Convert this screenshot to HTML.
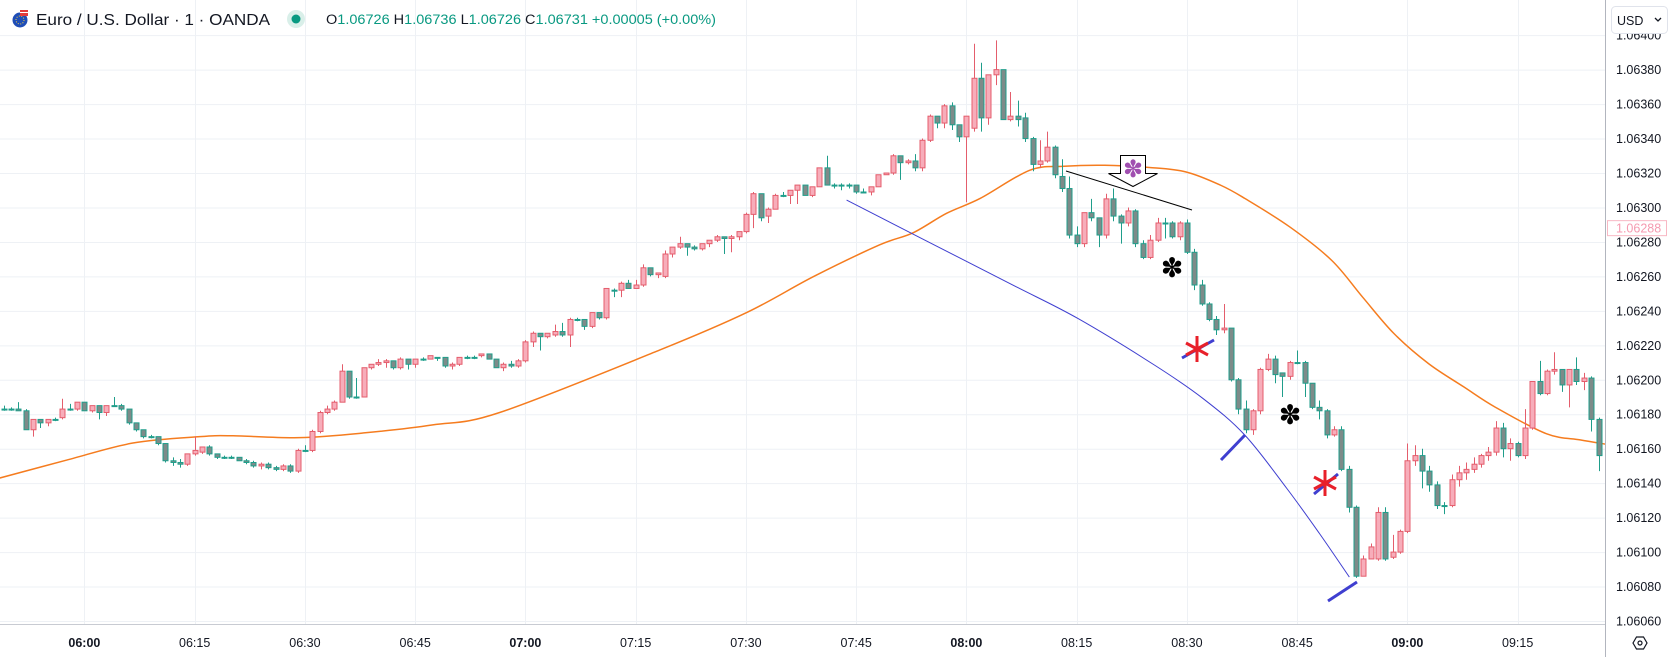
<!DOCTYPE html>
<html><head><meta charset="utf-8"><style>
html,body{margin:0;padding:0;background:#fff;}
svg{display:block;font-family:"Liberation Sans",Arial,sans-serif;}
</style></head><body>
<svg id="chart" width="1675" height="657" viewBox="0 0 1675 657" xmlns="http://www.w3.org/2000/svg">
<rect x="0" y="0" width="1675" height="657" fill="#fff"/>
<g id="grid"></g>
<g id="ma"></g>
<g id="candles"></g>
<g id="ann"></g>
<rect x="1606" y="0" width="69" height="657" fill="#fff"/>
<g id="paxis"></g>
<rect x="0" y="625" width="1606" height="32" fill="#fff"/>
<line x1="0" y1="624.5" x2="1606" y2="624.5" stroke="#c8cbd2"/>
<line x1="1605.5" y1="0" x2="1605.5" y2="657" stroke="#b2b5be"/>
<g id="taxis"></g>
<g>
  <g>
    <circle cx="20" cy="20" r="7.5" fill="#1e4db7"/>
    <circle cx="20" cy="20" r="4" fill="none" stroke="#f4d03f" stroke-width="1" stroke-dasharray="1 1.5"/>
    <rect x="20" y="10" width="8" height="6" fill="#e23b3b"/><rect x="20" y="12" width="8" height="1" fill="#fff"/>
  </g>
  <text x="36" y="25" font-size="16" fill="#131722" textLength="234" lengthAdjust="spacingAndGlyphs">Euro / U.S. Dollar · 1 · OANDA</text>
  <circle cx="296" cy="19" r="9" fill="#d9efe9"/>
  <circle cx="296" cy="19" r="4.5" fill="#089981"/>
  <text x="326" y="24" font-size="13.5" fill="#089981" textLength="390" lengthAdjust="spacingAndGlyphs"><tspan fill="#131722">O</tspan>1.06726 <tspan fill="#131722">H</tspan>1.06736 <tspan fill="#131722">L</tspan>1.06726 <tspan fill="#131722">C</tspan>1.06731 +0.00005 (+0.00%)</text>
</g>
<g>
  <rect x="1611.5" y="6.5" width="56" height="27" rx="4" fill="#fff" stroke="#e0e3eb"/>
  <text x="1617" y="25" font-size="12.5" fill="#131722">USD</text>
  <path d="M1655 18 l3 3 l3 -3" fill="none" stroke="#131722" stroke-width="1.3"/>
</g>
<g>
  <path d="M1633 643 l3.5 -6 h7 l3.5 6 l-3.5 6 h-7 z" fill="none" stroke="#131722" stroke-width="1.2"/>
  <circle cx="1640" cy="643" r="2" fill="none" stroke="#131722" stroke-width="1.2"/>
</g>
</svg>
<script>
// ---- data (price units: 1e-5 above 1.06000), minute index from 05:49 ----
const startMinute = -11;
const opens = [183,183,183,182,171,177,175,177,178,183,183,187,182,185,181,185,185,183,175,171,167,167,163,153,152,151,157,158,161,157,155,155,155,153,152,150,151,149,148,150,147,159,159,170,181,183,187,205,190,190,207,209,210,211,207,212,209,212,212,213,213,208,209,213,213,214,215,212,207,209,208,211,222,227,225,226,228,226,235,235,231,239,236,252,252,256,253,255,265,261,260,273,277,279,277,276,279,281,283,282,283,286,296,308,295,299,307,307,310,313,307,312,323,313,313,313,313,309,309,312,319,320,330,326,327,323,339,353,349,359,348,341,346,375,352,377,380,351,353,352,340,325,327,335,318,311,284,279,297,294,284,305,295,291,298,279,271,281,291,291,283,291,274,255,244,235,229,230,200,183,171,182,206,212,204,202,210,210,198,184,182,168,171,148,126,86,96,96,123,97,100,112,153,156,147,139,127,127,142,146,148,151,156,158,172,160,163,156,172,199,192,205,206,197,206,199,201,177];
const highs = [185,184,187,183,177,177,177,178,189,186,187,187,185,185,185,190,186,183,175,171,168,167,163,155,154,157,167,161,162,157,156,156,155,154,153,152,152,150,151,151,160,162,171,182,185,188,209,205,201,207,209,212,212,211,213,212,212,213,214,213,213,210,213,214,214,215,215,212,210,211,212,223,228,227,227,232,233,236,236,235,239,239,253,253,257,258,258,267,265,262,275,277,283,279,278,279,281,284,283,284,286,297,309,308,300,308,309,310,313,313,312,323,330,314,314,314,313,311,312,319,320,331,330,328,331,340,354,353,360,361,348,353,395,384,377,397,380,367,362,355,341,339,344,336,328,318,289,297,305,294,308,311,296,300,299,281,284,294,294,292,292,293,276,258,245,237,244,230,201,188,183,207,215,214,204,211,217,211,198,188,183,173,173,150,127,98,105,126,126,110,113,163,162,160,150,141,129,145,150,152,155,157,161,176,175,166,164,183,199,211,206,216,206,206,213,204,202,178];
const lows = [182,182,182,171,167,172,173,176,177,182,182,182,181,177,179,185,182,174,170,166,166,162,152,150,149,150,156,157,156,154,154,154,153,151,149,148,148,147,147,146,146,158,158,169,180,182,187,189,189,190,206,208,207,206,206,206,207,211,212,211,207,206,208,212,212,213,212,207,205,207,207,210,219,217,224,225,225,219,234,229,230,235,235,248,248,253,253,254,260,259,259,271,276,272,275,275,277,280,273,274,281,285,288,292,291,299,306,302,302,307,306,312,313,311,310,311,308,309,307,312,319,319,316,325,321,321,338,346,346,345,338,303,344,344,348,371,351,350,347,338,321,323,326,317,309,282,277,277,292,277,282,292,279,289,277,270,270,280,282,282,281,273,252,243,234,226,227,199,180,169,168,180,205,198,190,200,209,190,183,177,166,167,147,123,85,86,96,95,95,96,99,111,150,137,135,125,122,126,138,142,146,149,153,156,155,153,155,154,171,191,191,203,193,184,197,194,170,147];
const closes = [183,183,182,171,177,175,177,177,183,183,187,182,185,181,185,185,183,175,171,167,167,163,153,152,151,157,159,161,157,155,155,155,153,152,150,151,149,148,150,147,159,159,170,181,183,187,205,190,190,207,209,210,211,207,212,209,212,212,214,213,208,209,213,213,213,215,212,207,209,208,211,222,227,225,227,228,226,235,235,231,239,236,253,252,256,253,255,265,261,262,273,277,279,277,276,279,281,283,282,283,286,296,308,294,299,307,307,310,313,307,312,323,313,313,313,313,309,309,312,319,320,330,326,327,323,339,353,349,359,348,341,353,375,352,377,380,351,353,351,340,325,327,335,319,311,284,279,297,294,284,305,295,291,298,279,271,281,291,291,283,291,274,255,244,235,229,230,200,183,171,182,206,212,203,202,210,210,198,184,182,168,171,148,126,86,96,103,123,96,100,112,153,156,147,139,127,127,142,146,148,151,156,158,172,160,163,156,172,199,192,205,206,197,206,199,201,177,156];
// moving average samples (minute, value)
const maMinutes = [-11.5,-2.4,6.6,15.7,20.2,29.3,38.4,47.4,56.5,78.3,90.1,99.2,108.2,112.7,117.3,121.9,128.6,133.3,138.8,144.9,149.9,154.6,157.9,164,169.7,173.9,178.2,182.9,187.7,192,198.9,203.5,207];
const maValues = [143,153.4,163.3,167,167.5,166.4,169.3,173.8,181,217.3,239,259.9,278.3,285.2,296.6,305.3,321.6,323.9,324.5,323.2,320.6,312.9,305.2,288.7,269.3,248,226.7,209.3,195.8,184,168.7,165.1,162.6];
// blue curve annotation (minute, value)
const curveMinutes = [103.7,111.4,119.1,127,135.2,145.6,152.2,157.9,163.6,168,172.1];
const curveValues = [304.3,287.5,270.7,253.5,235.5,208.5,189.1,167.8,136.9,111,85.5];
const priceTicks = [60,80,100,120,140,160,180,200,220,240,260,280,300,320,340,360,380,400];
const timeTicks = [0,15,30,45,60,75,90,105,120,135,150,165,180,195];
const timeLabels = ["06:00","06:15","06:30","06:45","07:00","07:15","07:30","07:45","08:00","08:15","08:30","08:45","09:00","09:15"];
const lastPrice = 288;

const NS = "http://www.w3.org/2000/svg";
function xT(t){return 84.4 + t*7.35;}
function yU(u){return 621 - (u-60)*34.46/20;}
function mk(tag, attrs, parent){const e=document.createElementNS(NS,tag);for(const k in attrs)e.setAttribute(k,attrs[k]);parent.appendChild(e);return e;}

const grid=document.getElementById('grid');
priceTicks.forEach(u=>{const l=mk('line',{x1:0,x2:1606,y1:yU(u)+0.5,y2:yU(u)+0.5,stroke:'#eef1f5'},grid);

});
timeTicks.forEach(t=>{const l=mk('line',{x1:Math.round(xT(t))+0.5,x2:Math.round(xT(t))+0.5,y1:0,y2:625,stroke:'#eef1f5'},grid);

});

// moving average path (Catmull-Rom)
const mg=document.getElementById('ma');
const pts=maMinutes.map((t,i)=>[xT(t),yU(maValues[i])]);
function crPath(p){let d='M'+p[0][0]+' '+p[0][1];for(let i=0;i<p.length-1;i++){const p0=p[i-1]||p[i],p1=p[i],p2=p[i+1],p3=p[i+2]||p2;
d+=' C'+(p1[0]+(p2[0]-p0[0])/6)+' '+(p1[1]+(p2[1]-p0[1])/6)+' '+(p2[0]-(p3[0]-p1[0])/6)+' '+(p2[1]-(p3[1]-p1[1])/6)+' '+p2[0]+' '+p2[1];}return d;}
const maPath=mk('path',{d:crPath(pts),fill:'none',stroke:'#f57c1f','stroke-width':1.5},mg);



// candles
const cg=document.getElementById('candles');
for(let i=0;i<opens.length;i++){
  const o=opens[i],h=highs[i],l=lows[i],c=closes[i];
  const up=c>o;
  const cx=Math.round(xT(startMinute+i));
  const border=up?'#e45d6c':'#1f9e8b', fill=up?'#f7adba':'#7d8b89';
  const g=mk('g',{},cg);
  
  
  mk('line',{x1:cx+0.5,x2:cx+0.5,y1:yU(h),y2:yU(l),stroke:border,'stroke-width':1},g);
  const top=yU(Math.max(o,c)),bot=yU(Math.min(o,c));
  mk('rect',{x:cx-2,y:top,width:5,height:Math.max(1,bot-top),fill:fill,stroke:border,'stroke-width':1},g);
}

// annotations
const ag=document.getElementById('ann');
const cp=curveMinutes.map((t,i)=>[xT(t),yU(curveValues[i])]);
const bc=mk('path',{d:crPath(cp),fill:'none',stroke:'#3f3fd0','stroke-width':1},ag);


const tl=mk('line',{x1:1066,y1:171,x2:1192,y2:210,stroke:'#000','stroke-width':1},ag);


const arr=mk('path',{d:'M1120.5 155.5 h25 v18 h12 l-24.5 13 l-24.5 -13 h12 z',fill:'#fff',stroke:'#000','stroke-width':1},ag);


const pa=mk('text',{x:1133,y:177,'font-size':24,'text-anchor':'middle',fill:'#a04fb0','font-family':'DejaVu Sans'},ag);
pa.textContent='✽';


[[1172,268],[1290,415]].forEach(p=>{const t=mk('text',{x:p[0],y:p[1]+9,'font-size':27,'text-anchor':'middle',fill:'#000','font-family':'DejaVu Sans'},ag);t.textContent='✽';

});
[[1182,358,1214,340],[1221,460,1245,435],[1314,494,1338,474],[1328,601,1357,582]].forEach(s=>{const l=mk('line',{x1:s[0],y1:s[1],x2:s[2],y2:s[3],stroke:'#3f3fd0','stroke-width':3},ag);

});
[[1197,349],[1325,483]].forEach(p=>{const g=mk('g',{stroke:'#e8202a','stroke-width':3},ag);


mk('line',{x1:p[0],y1:p[1]-13,x2:p[0],y2:p[1]+13},g);
mk('line',{x1:p[0]-11,y1:p[1]-6,x2:p[0]+11,y2:p[1]+6},g);
mk('line',{x1:p[0]-11,y1:p[1]+6,x2:p[0]+11,y2:p[1]-6},g);});

// price axis
const pg=document.getElementById('paxis');
priceTicks.forEach(u=>{const t=mk('text',{x:1616,y:yU(u)+4.5,'font-size':12.5,fill:'#131722'},pg);t.textContent=(1.06+u/100000).toFixed(5);

});
const ly=yU(lastPrice);
const lb=mk('rect',{x:1607.5,y:ly-7.5,width:59,height:15,fill:'#fff',stroke:'#f8b8c4'},pg);


const lt=mk('text',{x:1616,y:ly+4.5,'font-size':12.5,fill:'#f59ab0'},pg);lt.textContent=(1.06+lastPrice/100000).toFixed(5);



// time axis
const tg=document.getElementById('taxis');
timeTicks.forEach((m,i)=>{const bold=timeLabels[i].endsWith(':00');const t=mk('text',{x:xT(m),y:647,'font-size':12.5,'text-anchor':'middle',fill:'#131722','font-weight':bold?'bold':'normal'},tg);t.textContent=timeLabels[i];

});
</script>
</body></html>
